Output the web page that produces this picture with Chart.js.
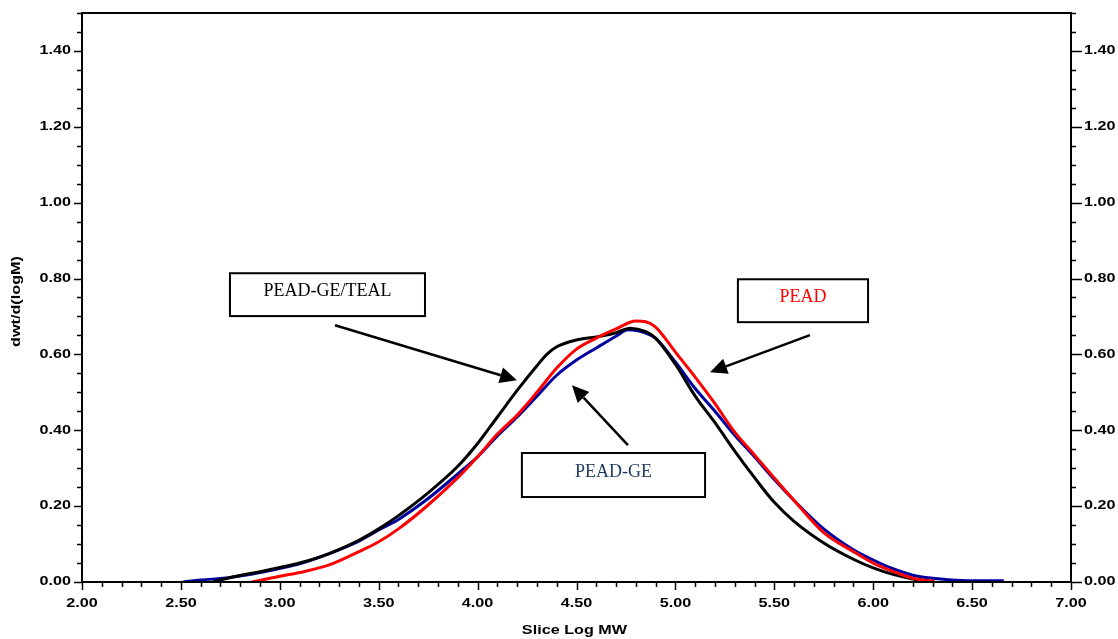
<!DOCTYPE html>
<html>
<head>
<meta charset="utf-8">
<script src="https://cdn.jsdelivr.net/npm/chart.js@4/dist/chart.umd.min.js"></script>
<style>
  html, body { margin: 0; padding: 0; background: #fff; }
  #wrap { width: 1118px; height: 639px; position: relative; }
</style>
</head>
<body>
<div id="wrap"><canvas id="gpc"></canvas></div>
<script>
// data (x = log MW, y = dwt/d(logM))
const tealX = [2.66, 2.75, 2.9, 3.0, 3.1, 3.25, 3.4, 3.5, 3.6, 3.75, 3.9, 4.0, 4.1, 4.2, 4.3, 4.35, 4.4, 4.5, 4.6, 4.7, 4.77, 4.85, 4.9, 5.0, 5.1, 5.2, 5.3, 5.4, 5.5, 5.6, 5.75, 5.9, 6.0, 6.1, 6.2, 6.27];
const tealY = [0.0, 0.012, 0.027, 0.038, 0.05, 0.075, 0.11, 0.14, 0.175, 0.235, 0.305, 0.365, 0.435, 0.505, 0.57, 0.6, 0.62, 0.638, 0.646, 0.657, 0.669, 0.66, 0.643, 0.574, 0.49, 0.42, 0.345, 0.275, 0.21, 0.16, 0.103, 0.06, 0.037, 0.02, 0.008, 0.002];

const geX = [2.51, 2.6, 2.75, 2.9, 3.0, 3.1, 3.25, 3.4, 3.5, 3.6, 3.75, 3.9, 4.0, 4.1, 4.2, 4.3, 4.4, 4.5, 4.6, 4.7, 4.76, 4.85, 4.9, 5.0, 5.1, 5.2, 5.3, 5.4, 5.5, 5.6, 5.75, 5.9, 6.0, 6.1, 6.2, 6.3, 6.45, 6.66];
const geY = [0.0, 0.005, 0.012, 0.025, 0.036, 0.048, 0.075, 0.108, 0.137, 0.165, 0.22, 0.285, 0.33, 0.385, 0.435, 0.49, 0.545, 0.585, 0.617, 0.648, 0.665, 0.656, 0.642, 0.58, 0.51, 0.45, 0.387, 0.33, 0.27, 0.215, 0.14, 0.085, 0.058, 0.035, 0.018, 0.01, 0.004, 0.003];

const peadX = [2.86, 2.95, 3.0, 3.1, 3.25, 3.4, 3.5, 3.6, 3.75, 3.9, 4.0, 4.1, 4.2, 4.3, 4.4, 4.5, 4.6, 4.7, 4.8, 4.85, 4.9, 5.0, 5.1, 5.2, 5.3, 5.4, 5.5, 5.6, 5.75, 5.9, 6.0, 6.1, 6.2, 6.31];
const peadY = [0.0, 0.01, 0.015, 0.025, 0.045, 0.08, 0.106, 0.14, 0.203, 0.275, 0.33, 0.39, 0.44, 0.5, 0.564, 0.614, 0.643, 0.667, 0.688, 0.686, 0.672, 0.606, 0.54, 0.47, 0.395, 0.335, 0.274, 0.215, 0.13, 0.08, 0.05, 0.028, 0.01, 0.002];

const xTicks = [2.0, 2.5, 3.0, 3.5, 4.0, 4.5, 5.0, 5.5, 6.0, 6.5, 7.0];
const yTicks = [0.0, 0.2, 0.4, 0.6, 0.8, 1.0, 1.2, 1.4];

function pts(xs, ys) {
  return xs.map((x, i) => ({ x: x, y: ys[i] }));
}

// text boxes with arrows, placed in data units
const notes = [
  { text: 'PEAD-GE/TEAL', color: '#000000', box: [2.748, 0.814, 3.734, 0.701], from: [3.279, 0.677], to: [4.199, 0.532] },
  { text: 'PEAD-GE', color: '#1f3a5f', box: [4.224, 0.340, 5.150, 0.224], from: [4.760, 0.361], to: [4.477, 0.519] },
  { text: 'PEAD', color: '#ff0000', box: [5.316, 0.798, 5.974, 0.685], from: [5.680, 0.651], to: [5.175, 0.553] }
];

const axisFont = 'bold 12px "Liberation Sans", Arial, sans-serif';

function stretchText(ctx, txt, x, y, align) {
  // tick labels in the original are wide and squat
  const sx = 1.35;
  const w = ctx.measureText(txt).width * sx;
  let left = x;
  if (align === 'right') left = x - w;
  if (align === 'center') left = x - w / 2;
  ctx.save();
  ctx.translate(left, y);
  ctx.scale(sx, 1);
  ctx.textAlign = 'left';
  ctx.fillText(txt, 0, 0);
  ctx.restore();
}

const framePlugin = {
  id: 'frame',
  afterDatasetsDraw(chart) {
    const ctx = chart.ctx;
    const a = chart.chartArea;
    const xs = chart.scales.x, ys = chart.scales.y;
    ctx.save();
    ctx.strokeStyle = '#000';
    ctx.lineWidth = 2;
    ctx.strokeRect(a.left, a.top, a.right - a.left, a.bottom - a.top);

    ctx.lineWidth = 1.5;
    // y minor/major ticks both sides
    for (let v = 0; v <= 1.5001; v += 0.05) {
      const y = Math.round(ys.getPixelForValue(v)) + 0.5;
      const major = Math.abs(v / 0.2 - Math.round(v / 0.2)) < 0.001;
      const len = major ? 8 : 5;
      ctx.beginPath();
      ctx.moveTo(a.left - len, y); ctx.lineTo(a.left, y);
      ctx.moveTo(a.right, y); ctx.lineTo(a.right + (major ? 11 : 5), y);
      ctx.stroke();
    }
    // x ticks
    for (let v = 2; v <= 7.0001; v += 0.1) {
      const x = Math.round(xs.getPixelForValue(v)) + 0.5;
      const major = Math.abs(v / 0.5 - Math.round(v / 0.5)) < 0.001;
      ctx.beginPath();
      ctx.moveTo(x, a.bottom); ctx.lineTo(x, a.bottom + (major ? 8 : 5));
      ctx.stroke();
    }

    ctx.fillStyle = '#000';
    ctx.font = axisFont;
    ctx.textBaseline = 'middle';
    yTicks.forEach(v => {
      const y = ys.getPixelForValue(v);
      stretchText(ctx, v.toFixed(2), a.left - 11, y, 'right');
      stretchText(ctx, v.toFixed(2), a.right + 13, y, 'left');
    });
    xTicks.forEach(v => {
      stretchText(ctx, v.toFixed(2), xs.getPixelForValue(v), a.bottom + 22, 'center');
    });

    // axis titles
    stretchText(ctx, 'Slice Log MW', (a.left + a.right) / 2 - 2, a.bottom + 49, 'center');
    ctx.save();
    ctx.translate(17, (a.top + a.bottom) / 2 + 4);
    ctx.rotate(-Math.PI / 2);
    stretchText(ctx, 'dwt/d(logM)', 0, 0, 'center');
    ctx.restore();

    // notes
    notes.forEach(n => {
      const x1 = xs.getPixelForValue(n.box[0]), y1 = ys.getPixelForValue(n.box[1]);
      const x2 = xs.getPixelForValue(n.box[2]), y2 = ys.getPixelForValue(n.box[3]);
      ctx.fillStyle = '#fff';
      ctx.fillRect(x1, y1, x2 - x1, y2 - y1);
      ctx.strokeStyle = '#000';
      ctx.lineWidth = 2;
      ctx.strokeRect(x1, y1, x2 - x1, y2 - y1);
      ctx.fillStyle = n.color;
      ctx.font = '18px "Liberation Serif", "Times New Roman", serif';
      ctx.textAlign = 'center';
      ctx.textBaseline = 'middle';
      ctx.fillText(n.text, (x1 + x2) / 2, (y1 + y2) / 2 - 3);

      const fx = xs.getPixelForValue(n.from[0]), fy = ys.getPixelForValue(n.from[1]);
      const tx = xs.getPixelForValue(n.to[0]), ty = ys.getPixelForValue(n.to[1]);
      const ang = Math.atan2(ty - fy, tx - fx);
      const hl = 17, hw = 8;
      const bx = tx - hl * Math.cos(ang), by = ty - hl * Math.sin(ang);
      ctx.strokeStyle = '#000';
      ctx.lineWidth = 2.5;
      ctx.beginPath();
      ctx.moveTo(fx, fy); ctx.lineTo(bx, by);
      ctx.stroke();
      ctx.fillStyle = '#000';
      ctx.beginPath();
      ctx.moveTo(tx, ty);
      ctx.lineTo(bx + hw * Math.sin(ang), by - hw * Math.cos(ang));
      ctx.lineTo(bx - hw * Math.sin(ang), by + hw * Math.cos(ang));
      ctx.closePath();
      ctx.fill();
    });
    ctx.restore();
  }
};

const line = (label, data, color, order) => ({
  label: label,
  data: data,
  borderColor: color,
  backgroundColor: color,
  borderWidth: 3,
  pointRadius: 0,
  fill: false,
  cubicInterpolationMode: 'monotone',
  order: order
});

new Chart(document.getElementById('gpc'), {
  type: 'line',
  data: {
    datasets: [
      line('PEAD', pts(peadX, peadY), '#ff0000', 1),
      line('PEAD-GE/TEAL', pts(tealX, tealY), '#000000', 2),
      line('PEAD-GE', pts(geX, geY), '#0000a0', 3)
    ]
  },
  options: {
    responsive: true,
    maintainAspectRatio: false,
    animation: false,
    layout: { padding: { left: 82, right: 47, top: 13, bottom: 57 } },
    plugins: { legend: { display: false }, tooltip: { enabled: false } },
    scales: {
      x: { type: 'linear', min: 2, max: 7, display: false },
      y: { type: 'linear', min: 0, max: 1.5, display: false }
    }
  },
  plugins: [framePlugin]
});
</script>
</body>
</html>
